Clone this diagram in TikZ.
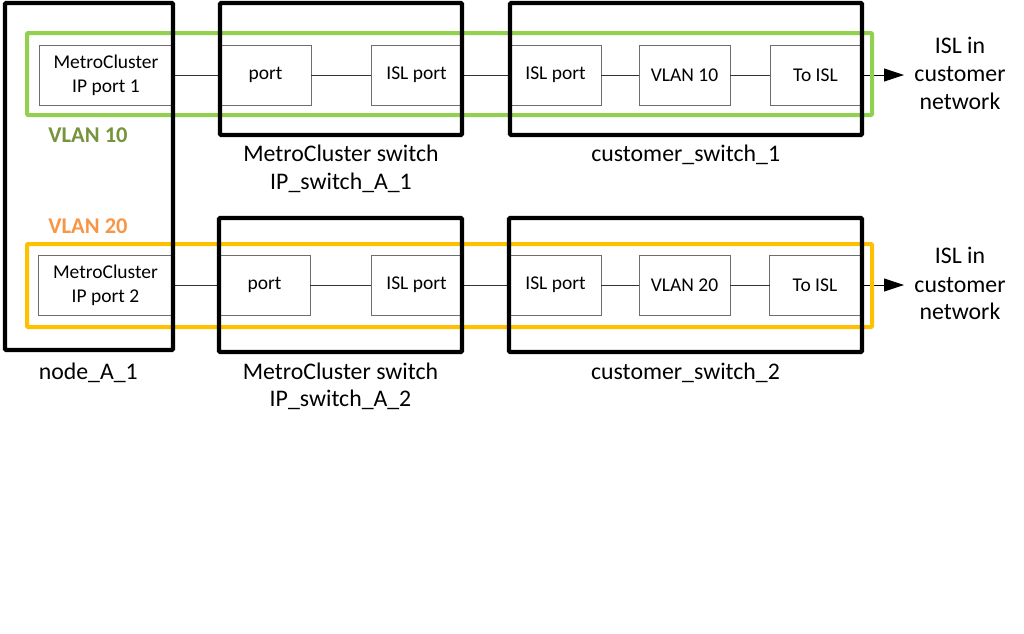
\documentclass[tikz,border=0pt]{standalone}
\usepackage{fontspec}
\setmainfont{Carlito}
\usetikzlibrary{arrows.meta}
\definecolor{vgreen}{HTML}{92D050}
\definecolor{vgreentext}{HTML}{77933C}
\definecolor{vorange}{HTML}{FFC000}
\definecolor{vorangetext}{HTML}{F79646}
\definecolor{boxgray}{HTML}{6E6E6E}
\begin{document}
\begin{tikzpicture}[x=1pt,y=-1pt,
  bigbox/.style={draw=black,line width=4.2pt,rounded corners=1pt,inner sep=0pt,outer sep=0pt},
  portbox/.style={draw=boxgray,line width=1pt,fill=white,inner sep=0pt,outer sep=0pt,
    minimum width=91pt,minimum height=60pt,align=center,
    font=\fontsize{19.5}{24}\selectfont},
  vlanframe/.style={line width=4pt,rounded corners=1pt},
  lbl/.style={anchor=base,inner sep=0pt,font=\fontsize{23.8}{28}\selectfont},
  vlbl/.style={anchor=base,inner sep=0pt,font=\fontsize{22.5}{26}\selectfont\bfseries},
  conn/.style={draw=black!80,line width=0.9pt},
  arr/.style={draw=black,line width=0.9pt,-{Triangle[length=20pt,width=13pt]}}
]
\useasboundingbox (0,0) rectangle (1024,633);

% inner port boxes, row 1
\node[portbox,minimum width=134pt] (mc1) at (106,75) {MetroCluster\\IP port 1};
\node[portbox] (p1) at (265.5,75) {port};
\node[portbox] (isl1) at (416.5,75) {ISL port};
\node[portbox] (cisl1) at (555.5,75) {ISL port};
\node[portbox] (vl1) at (684.5,75) {VLAN 10};
\node[portbox] (to1) at (815.5,75) {To ISL};

% inner port boxes, row 2
\node[portbox,minimum width=135pt] (mc2) at (105.5,285) {MetroCluster\\IP port 2};
\node[portbox] (p2) at (264.5,285) {port};
\node[portbox] (isl2) at (416.5,285) {ISL port};
\node[portbox] (cisl2) at (555.5,285) {ISL port};
\node[portbox] (vl2) at (684.5,285) {VLAN 20};
\node[portbox] (to2) at (815,285) {To ISL};

% connectors
\coordinate (end1) at (904,75);
\coordinate (end2) at (904,285);
\draw[conn] (mc1.east) -- (p1.west);
\draw[conn] (p1.east) -- (isl1.west);
\draw[conn] (isl1.east) -- (cisl1.west);
\draw[conn] (cisl1.east) -- (vl1.west);
\draw[conn] (vl1.east) -- (to1.west);
\draw[arr] (to1.east) -- (end1);
\draw[conn] (mc2.east) -- (p2.west);
\draw[conn] (p2.east) -- (isl2.west);
\draw[conn] (isl2.east) -- (cisl2.west);
\draw[conn] (cisl2.east) -- (vl2.west);
\draw[conn] (vl2.east) -- (to2.west);
\draw[arr] (to2.east) -- (end2);

% VLAN frames
\draw[vlanframe,draw=vgreen] (27,33) rectangle (872,115);
\draw[vlanframe,draw=vorange] (27,244) rectangle (872,327);

% device boxes
\node[bigbox,minimum width=168pt,minimum height=347pt] (nodeA) at (89,176.5) {};
\node[bigbox,minimum width=242pt,minimum height=132pt] (sw1) at (341,69) {};
\node[bigbox,minimum width=352pt,minimum height=132pt] (cs1) at (686,69) {};
\node[bigbox,minimum width=243pt,minimum height=134pt] (sw2) at (340.5,285) {};
\node[bigbox,minimum width=353pt,minimum height=134pt] (cs2) at (685.5,285) {};

% labels
\node[vlbl,text=vgreentext] (v10) at (88,142.7) {VLAN 10};
\node[vlbl,text=vorangetext] (v20) at (88,233.3) {VLAN 20};
\node[lbl] (lnode) at (88.3,379.5) {node\_A\_1};
\node[lbl] (lsw1a) at (341,161.7) {MetroCluster switch};
\node[lbl] (lsw1b) at (341,189.3) {IP\_switch\_A\_1};
\node[lbl] (lcs1) at (685.7,161.7) {customer\_switch\_1};
\node[lbl] (lsw2a) at (340.5,379.5) {MetroCluster switch};
\node[lbl] (lsw2b) at (340.5,406.5) {IP\_switch\_A\_2};
\node[lbl] (lcs2) at (685.5,379.5) {customer\_switch\_2};
\node[lbl] (isla1) at (960,53) {ISL in};
\node[lbl] (isla2) at (960,81.5) {customer};
\node[lbl] (isla3) at (960,109.5) {network};
\node[lbl] (islb1) at (960,263.3) {ISL in};
\node[lbl] (islb2) at (960,292) {customer};
\node[lbl] (islb3) at (960,319.5) {network};
\end{tikzpicture}
\end{document}
